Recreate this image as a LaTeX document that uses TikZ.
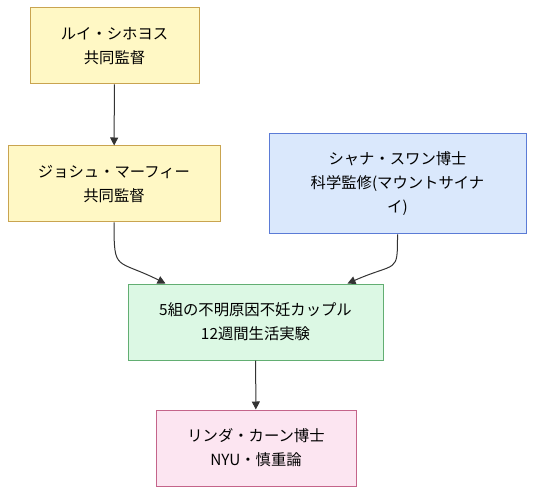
\documentclass[tikz,border=0pt]{standalone}
\usepackage{fontspec}
\setmainfont{Noto Sans CJK JP}
\usetikzlibrary{arrows.meta}
\definecolor{ylwfill}{HTML}{FFF8C5}
\definecolor{ylwline}{HTML}{C9A450}
\definecolor{bluefill}{HTML}{DAE8FC}
\definecolor{blueline}{HTML}{5B7BD6}
\definecolor{grnfill}{HTML}{DCF8E4}
\definecolor{grnline}{HTML}{62AE72}
\definecolor{pnkfill}{HTML}{FCE5F1}
\definecolor{pnkline}{HTML}{C4648A}
\definecolor{edgegray}{HTML}{333333}
\tikzset{
    every node/.style={rectangle, draw, line width=0.75pt, align=center,
    	font=\fontsize{11.5}{18}\selectfont, inner sep=0pt},
    ylw/.style={fill=ylwfill, draw=ylwline},
    blu/.style={fill=bluefill, draw=blueline},
    grn/.style={fill=grnfill, draw=grnline},
    pnk/.style={fill=pnkfill, draw=pnkline},
    arr/.style={draw=edgegray, line width=0.75pt,
    	-{Triangle[length=6pt, width=6pt]}}
}

\begin{document}
\begin{tikzpicture}[x=0.75pt, y=-0.75pt]
	\useasboundingbox (0,0) rectangle (542,502);
	\node (1) [ylw, minimum width=126.75pt, minimum height=57pt] at (114.5, 46) {ルイ・シホヨス\\共同監督};
	\node (2) [ylw, minimum width=159pt, minimum height=57pt] at (114, 184) {ジョシュ・マーフィー\\共同監督};
	\node (3) [blu, minimum width=192.75pt, minimum height=75pt] at (397.5, 184) {シャナ・スワン博士\\科学監修(マウントサイナ\\イ)};
	\node (4) [grn, minimum width=191.25pt, minimum height=57pt] at (255.5, 322) {5組の不明原因不妊カップル\\12週間生活実験};
	\node (5) [pnk, minimum width=150pt, minimum height=57pt] at (256, 448) {リンダ・カーン博士\\NYU・慎重論};
	
	\draw[arr] (1) -- (2);
	\draw[arr] (2.south) .. controls +(0,50) and +(-50,-25) .. ([xshift=-67.5pt]4.north);
	\draw[arr] (3.south) .. controls +(0,40) and +(50,-22) .. ([xshift=69pt]4.north);
	\draw[arr] (4) -- (5);
\end{tikzpicture}
\end{document}
